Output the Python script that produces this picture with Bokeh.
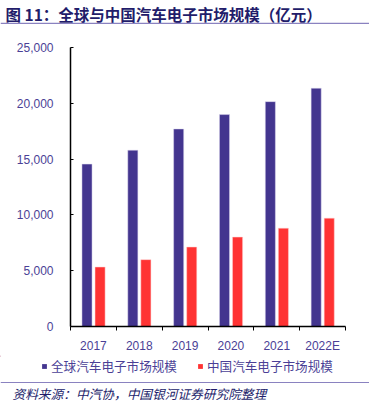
from bokeh.plotting import figure
from bokeh.layouts import column
from bokeh.models import (Range1d, FixedTicker, Legend, LegendItem,
                          ColumnDataSource)
from bokeh.core.properties import value
from bokeh.embed import file_html
from bokeh.resources import INLINE

years = ["2017", "2018", "2019", "2020", "2021", "2022E"]
global_market = [14550, 15800, 17700, 18990, 20150, 21350]
china_market = [5330, 5990, 7120, 8010, 8810, 9710]
y_ticks = [0, 5000, 10000, 15000, 20000, 25000]
y_tick_labels = ["0", "5,000", "10,000", "15,000", "20,000", "25,000"]
series_names = ["全球汽车电子市场规模", "中国汽车电子市场规模"]
title_text = "图 11：全球与中国汽车电子市场规模（亿元）"
source_text = "资料来源：中汽协，中国银河证券研究院整理"

PURPLE = "#43358F"
RED = "#FF3333"
LABEL = "#4B3F96"
NAVY = "#221C6A"
RULE = "#8A82C0"
CJK = "Noto Sans CJK SC"

W = 369
H_HEAD, H_MAIN, H_FOOT = 34, 321, 51


def panel(h):
    f = figure(width=W, height=h, output_backend="svg", toolbar_location=None,
               x_range=Range1d(0, W), y_range=Range1d(h, 0),
               x_axis_location=None, y_axis_location=None,
               min_border=0, min_border_left=0, min_border_right=0,
               min_border_top=0, min_border_bottom=0,
               outline_line_color=None, frame_align=False,
               border_fill_alpha=0, background_fill_alpha=0)
    f.grid.visible = False
    return f


# ---- header ----
head = panel(H_HEAD)
head.text(x=[5], y=[13], text=[title_text], text_font=value(CJK),
          text_font_style="bold", text_font_size="15.5px", text_color=NAVY,
          text_baseline="middle", text_align="left")
head.quad(left=[0], right=[W], top=[22.2], bottom=[23.4], fill_color=RULE,
          line_color=None)

# ---- main chart ----
FL, FR, FT, FB = 70, 345, 13, 293   # frame edges inside the main panel
p = figure(width=W, height=H_MAIN, output_backend="svg", toolbar_location=None,
           x_range=Range1d(0, len(years)), y_range=Range1d(0, 25000),
           min_border_left=FL, min_border_right=W - FR, min_border_top=FT,
           min_border_bottom=H_MAIN - FB, outline_line_color=None,
           frame_align=False, border_fill_alpha=0, background_fill_alpha=0)
p.grid.visible = False

centers = [i + 0.5 for i in range(len(years))]
src = ColumnDataSource(dict(
    xg=[c - 0.14 for c in centers], xc=[c + 0.145 for c in centers],
    g=global_market, c=china_market))
p.vbar(x="xg", top="g", width=0.22, source=src, fill_color=PURPLE,
       line_color="#DCD8EE", line_width=0.5)
p.vbar(x="xc", top="c", width=0.22, source=src, fill_color=RED,
       line_color="#FFD0D0", line_width=0.5)

xa = p.xaxis[0]
xa.ticker = FixedTicker(ticks=centers, minor_ticks=list(range(len(years) + 1)))
xa.major_label_overrides = {c: y for c, y in zip(centers, years)}
xa.major_tick_out = 0
xa.major_tick_in = 0
xa.minor_tick_out = 4
xa.minor_tick_in = 0
xa.minor_tick_line_color = "black"
xa.axis_line_color = "black"
xa.axis_line_width = 1.5
xa.major_label_text_color = LABEL
xa.major_label_text_font = "Liberation Sans"
xa.major_label_text_font_size = "12px"
xa.major_label_standoff = 8

ya = p.yaxis[0]
ya.ticker = FixedTicker(ticks=y_ticks)
ya.major_label_overrides = {t: l for t, l in zip(y_ticks, y_tick_labels)}
ya.major_tick_in = 3
ya.major_tick_out = 0
ya.minor_tick_line_color = None
ya.axis_line_color = "black"
ya.axis_line_width = 1.5
ya.major_tick_line_color = "black"
ya.major_label_text_color = LABEL
ya.major_label_text_font = "Liberation Sans"
ya.major_label_text_font_size = "12px"
ya.major_label_standoff = 17

# ---- footer: legend, rule, source ----
foot = panel(H_FOOT)
# off-view swatch renderers so the legend has glyphs to draw
lg = foot.vbar(x=[-100], top=[1], width=1, fill_color=PURPLE, line_color=None)
lc = foot.vbar(x=[-100], top=[1], width=1, fill_color=RED, line_color=None)
legend = Legend(items=[LegendItem(label=series_names[0], renderers=[lg]),
                       LegendItem(label=series_names[1], renderers=[lc])],
                orientation="horizontal", location=(41, 31),
                background_fill_alpha=0, border_line_color=None,
                glyph_width=6, glyph_height=6, label_standoff=4, spacing=20,
                padding=0, margin=0, label_height=15,
                label_text_font=CJK, label_text_font_size="12.6px",
                label_text_color=LABEL, label_text_baseline="middle")
foot.add_layout(legend)
foot.quad(left=[0], right=[W], top=[26.4], bottom=[27.6], fill_color=RULE,
          line_color=None)
foot.text(x=[12], y=[37.5], text=[source_text], text_font=value(CJK),
          text_font_style="italic", text_font_size="12.7px", text_color=NAVY,
          text_baseline="middle", text_align="left")

layout = column(head, p, foot, spacing=0)
open("out.html", "w").write(file_html(layout, INLINE))
